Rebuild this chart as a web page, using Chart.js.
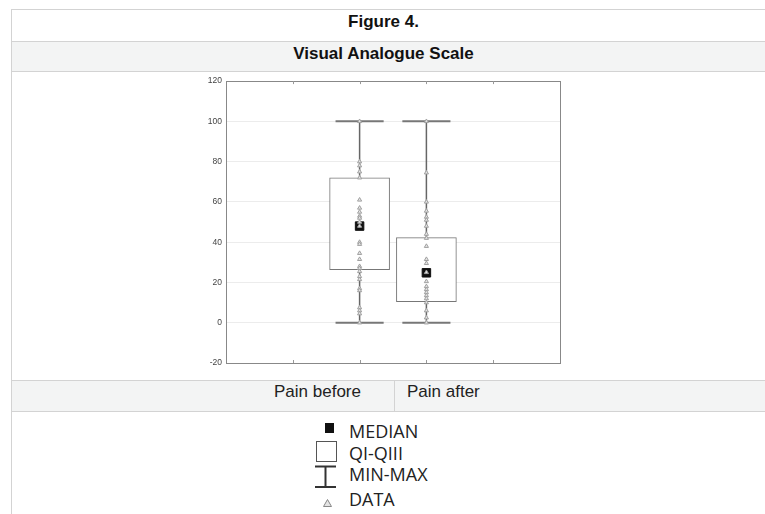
<!DOCTYPE html>
<html>
<head>
<meta charset="utf-8">
<script src="https://cdn.jsdelivr.net/npm/chart.js@4.4.1/dist/chart.umd.min.js"></script>
<style>
  body { margin:0; width:765px; height:514px; background:#fff; position:relative; overflow:hidden; font-family:"Liberation Sans", Arial, sans-serif; }
  .abs { position:absolute; }
  .hline { position:absolute; left:11px; width:754px; height:1px; background:#d3d3d3; }
  .grayrow { position:absolute; left:11px; width:754px; background:#f3f4f4; }
  .title { position:absolute; left:11px; width:745px; text-align:center; font-weight:bold; font-size:17px; line-height:20px; color:#111; }
  .cat { position:absolute; font-size:17px; line-height:20px; color:#222; }
  .leg { position:absolute; left:349px; font-family:"Open Sans", sans-serif; font-size:18px; line-height:18px; color:#222; }
</style>
</head>
<body>
<div class="grayrow" style="top:41px;height:31px"></div>
<div class="grayrow" style="top:380px;height:31px"></div>
<div class="hline" style="top:9px"></div>
<div class="hline" style="top:41px"></div>
<div class="hline" style="top:71px"></div>
<div class="hline" style="top:380px"></div>
<div class="hline" style="top:411px"></div>
<div class="abs" style="left:11px;top:9px;width:1px;height:505px;background:#d3d3d3"></div>
<div class="abs" style="left:394px;top:380px;width:1px;height:31px;background:#d3d3d3"></div>

<div class="title" style="top:12px">Figure 4.</div>
<div class="title" style="top:44px">Visual Analogue Scale</div>

<div class="cat" id="cat0" style="left:274px;top:382px"></div>
<div class="cat" id="cat1" style="left:407px;top:382px"></div>

<canvas id="chart" width="765" height="308" style="position:absolute;left:0;top:72px"></canvas>

<svg class="abs" style="left:310px;top:415px" width="32" height="99">
  <rect x="15" y="8" width="9" height="10" fill="#111"/>
  <rect x="6.5" y="26.5" width="20" height="20" fill="#fff" stroke="#555" stroke-width="1"/>
  <line x1="5" y1="51.5" x2="26" y2="51.5" stroke="#333" stroke-width="2"/>
  <line x1="15.5" y1="51.5" x2="15.5" y2="72" stroke="#333" stroke-width="2"/>
  <line x1="5" y1="72" x2="26" y2="72" stroke="#333" stroke-width="2"/>
  <polygon points="17.5,84.5 13.5,91.5 21.5,91.5" fill="#e4e4e4" stroke="#888" stroke-width="1"/>
</svg>
<div class="leg" style="top:422px">MEDIAN</div>
<div class="leg" style="top:444px">QI-QIII</div>
<div class="leg" style="top:465px">MIN-MAX</div>
<div class="leg" style="top:490px">DATA</div>

<script>
const categories = ['Pain before', 'Pain after'];
const positions = [2, 3];
const yTicks = [-20, 0, 20, 40, 60, 80, 100, 120];

const mins = [0, 0];
const q1 = [26.3, 10.4];
const medians = [48, 24.8];
const q3 = [72, 42.3];
const maxs = [100, 100];

const painBefore = [100, 80, 78, 75, 72, 61, 57, 55, 53, 52, 50, 48, 40, 39, 34.5, 31.5,
                    28, 27, 25.5, 23, 21.5, 17, 16, 7.5, 6, 4.5, 0];
const painAfter = [100, 74.5, 60, 55.5, 52.5, 51, 48, 44, 42, 38, 31.5, 29.5, 25, 20.5,
                   18, 16.5, 15, 13.5, 12, 10, 6, 2.5, 0];
const pointsList = [painBefore, painAfter];

document.getElementById('cat0').textContent = categories[0];
document.getElementById('cat1').textContent = categories[1];

const capHalf = 0.36;
const datasets = [];

// boxes QI-QIII
datasets.push({
  type: 'bar',
  data: positions.map((p, i) => ({x: p, y: [q1[i], q3[i]]})),
  backgroundColor: '#fff',
  borderColor: '#777',
  borderWidth: 1,
  borderSkipped: false,
  barThickness: 60,
  order: 5
});

// whiskers and caps
positions.forEach((p, i) => {
  const lineStyle = {type: 'line', borderColor: '#666', borderWidth: 1.5, pointRadius: 0, fill: false, order: 4};
  datasets.push({...lineStyle, data: [{x: p, y: mins[i]}, {x: p, y: q1[i]}]});
  datasets.push({...lineStyle, data: [{x: p, y: q3[i]}, {x: p, y: maxs[i]}]});
  datasets.push({...lineStyle, borderWidth: 2, borderColor: '#777', data: [{x: p - capHalf, y: mins[i]}, {x: p + capHalf, y: mins[i]}]});
  datasets.push({...lineStyle, borderWidth: 2, borderColor: '#777', data: [{x: p - capHalf, y: maxs[i]}, {x: p + capHalf, y: maxs[i]}]});
});

// medians
datasets.push({
  type: 'scatter',
  data: positions.map((p, i) => ({x: p, y: medians[i]})),
  pointStyle: 'rect',
  pointRadius: 6,
  backgroundColor: '#111',
  borderColor: '#111',
  order: 3
});

// raw data
positions.forEach((p, i) => {
  datasets.push({
    type: 'scatter',
    data: pointsList[i].map(v => ({x: p, y: v})),
    pointStyle: 'triangle',
    pointRadius: 2.4,
    borderWidth: 1,
    borderColor: '#a0a0a0',
    backgroundColor: '#e6e6e6',
    order: 1
  });
});

const framePlugin = {
  id: 'frame',
  afterDraw(chart) {
    const a = chart.chartArea, ctx = chart.ctx, xs = chart.scales.x;
    ctx.save();
    ctx.strokeStyle = '#888';
    ctx.lineWidth = 1;
    ctx.strokeRect(Math.round(a.left) + 0.5, Math.round(a.top) + 0.5, Math.round(a.right - a.left), Math.round(a.bottom - a.top));
    ctx.strokeStyle = '#999';
    for (let t = 1; t < 5; t++) {
      const x = Math.round(xs.getPixelForValue(t)) + 0.5;
      ctx.beginPath();
      ctx.moveTo(x, a.bottom); ctx.lineTo(x, a.bottom - 3);
      ctx.moveTo(x, a.top); ctx.lineTo(x, a.top + 3);
      ctx.stroke();
    }
    ctx.restore();
  }
};

new Chart(document.getElementById('chart').getContext('2d'), {
  type: 'bar',
  data: { datasets: datasets },
  options: {
    responsive: false,
    animation: false,
    layout: { padding: { left: 190, right: 205, top: 4.5, bottom: 17 } },
    plugins: { legend: { display: false }, tooltip: { enabled: false } },
    scales: {
      x: { type: 'linear', min: 0, max: 5, offset: false, display: false },
      y: {
        min: yTicks[0], max: yTicks[yTicks.length - 1],
        afterBuildTicks: s => { s.ticks = yTicks.map(v => ({value: v})); },
        afterFit: s => { s.width = 36; },
        ticks: { font: { size: 8.5, family: 'Liberation Sans' }, color: '#444', padding: 4 },
        grid: { color: '#ececec', drawTicks: false },
        border: { display: false }
      }
    }
  },
  plugins: [framePlugin]
});
</script>
</body>
</html>
